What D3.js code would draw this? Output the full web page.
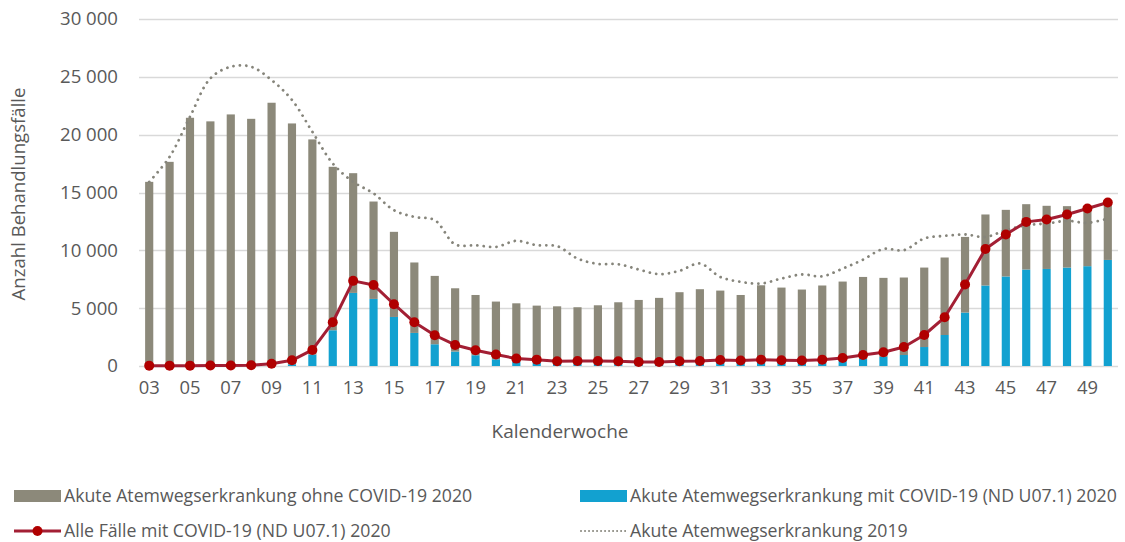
<!DOCTYPE html>
<html>
<head>
<meta charset="utf-8">
<script src="https://cdn.jsdelivr.net/npm/d3@7"></script>
<style>
  html, body { margin: 0; padding: 0; background: #fff; }
  svg { display: block; }
  text { font-family: "Open Sans", sans-serif; fill: #595959; }
</style>
</head>
<body>
<svg id="chart" width="1125" height="542"></svg>
<script>
const weeks = ["03","04","05","06","07","08","09","10","11","12","13","14","15","16","17","18","19","20","21","22","23","24","25","26","27","28","29","30","31","32","33","34","35","36","37","38","39","40","41","42","43","44","45","46","47","48","49","50"];
const ohneCovid2020 = [15920,17650,21460,21150,21750,21370,22730,20820,18600,14130,10350,8420,7360,6090,5910,5470,5210,4990,5070,4920,4910,4850,5020,5290,5510,5690,6160,6390,6240,5880,6680,6500,6360,6710,6870,7090,6840,6700,6870,6700,6540,6140,5760,5650,5460,5310,5220,4930];
const mitCovid2020 = [0,0,0,0,0,0,30,150,990,3090,6320,5800,4240,2860,1880,1250,930,580,350,300,250,230,230,220,200,200,220,250,280,260,300,280,250,250,430,610,780,950,1640,2680,4620,6960,7740,8340,8390,8510,8630,9170];
const alleCovid2020 = [30,30,30,40,40,60,200,490,1390,3780,7360,7010,5340,3780,2660,1820,1360,990,640,550,410,430,430,410,350,350,410,430,520,470,550,500,470,550,690,950,1190,1640,2680,4210,7040,10120,11370,12460,12670,13100,13620,14140];
const akute2019 = [15920,18080,21550,24870,25870,25870,24720,23000,20250,17510,15920,14920,13470,12890,12610,10510,10440,10300,10820,10440,10360,9290,8830,8800,8340,7940,8230,8860,7700,7270,7130,7560,7910,7760,8420,9200,10120,10010,11020,11250,11370,11160,11740,12170,12320,12550,12370,12750];
const yTicks = [0,5000,10000,15000,20000,25000,30000];
const seriesNames = [
  "Akute Atemwegserkrankung ohne COVID-19 2020",
  "Akute Atemwegserkrankung mit COVID-19 (ND U07.1) 2020",
  "Alle Fälle mit COVID-19 (ND U07.1) 2020",
  "Akute Atemwegserkrankung 2019"
];
const yTitle = "Anzahl Behandlungsfälle";
const xTitle = "Kalenderwoche";

const colGray = "#8c897a", colBlue = "#12a1d0", colRed = "#a31f34", colDot = "#b00000", colDotted = "#86857b";

const svg = d3.select("#chart");
const pLeft = 139, pRight = 1118, pTop = 19, pBottom = 366;

const x = d3.scaleBand().domain(weeks).range([pLeft, pRight]).paddingInner(0.6).paddingOuter(0.3);
const xc = d => x(d) + x.bandwidth() / 2;
const y = d3.scaleLinear().domain([0, 30000]).range([pBottom, pTop]);

// gridlines
svg.append("g").selectAll("line").data(yTicks).join("line")
  .attr("x1", pLeft).attr("x2", pRight)
  .attr("y1", d => Math.round(y(d)) + 0.5).attr("y2", d => Math.round(y(d)) + 0.5)
  .attr("stroke", "#d9d9d9").attr("stroke-width", 1.3);

// y axis labels
const yAxis = d3.axisLeft(y).tickValues(yTicks).tickSize(0).tickPadding(0)
  .tickFormat(d => d3.format(",")(d).replace(/,/g, " "));
const gy = svg.append("g").attr("transform", `translate(118,0)`).call(yAxis);
gy.select(".domain").remove();
gy.selectAll("text").style("font-size", "18.6px").attr("fill", "#595959").style("font-family", "Open Sans");

// x axis labels
const xAxis = d3.axisBottom(x).tickValues(weeks.filter((w, i) => i % 2 === 0)).tickSize(0).tickPadding(0);
const gx = svg.append("g").attr("transform", `translate(0,381)`).call(xAxis);
gx.select(".domain").remove();
gx.selectAll("text").style("font-size", "18.4px").attr("fill", "#595959").style("font-family", "Open Sans");

// stacked bars
const stackData = weeks.map((w, i) => ({week: w, mit: mitCovid2020[i], ohne: ohneCovid2020[i]}));
const stacked = d3.stack().keys(["mit", "ohne"])(stackData);
const colors = {mit: colBlue, ohne: colGray};
svg.append("g").selectAll("g").data(stacked).join("g")
  .attr("fill", d => colors[d.key])
  .selectAll("rect").data(d => d).join("rect")
  .attr("x", d => x(d.data.week))
  .attr("width", x.bandwidth())
  .attr("y", d => y(d[1]))
  .attr("height", d => Math.max(0, y(d[0]) - y(d[1])));

// 2019 dotted smoothed line
const line2019 = d3.line().x((d, i) => xc(weeks[i])).y(d => y(d)).curve(d3.curveCatmullRom.alpha(0.5));
svg.append("path").datum(akute2019)
  .attr("d", line2019).attr("fill", "none")
  .attr("stroke", colDotted).attr("stroke-width", 2.8)
  .attr("stroke-linecap", "round").attr("stroke-dasharray", "0.01 6.4");

// red line
const lineRed = d3.line().x((d, i) => xc(weeks[i])).y(d => y(d));
svg.append("path").datum(alleCovid2020)
  .attr("d", lineRed).attr("fill", "none")
  .attr("stroke", colRed).attr("stroke-width", 3).attr("stroke-linejoin", "round");
svg.append("g").selectAll("circle").data(alleCovid2020).join("circle")
  .attr("cx", (d, i) => xc(weeks[i])).attr("cy", d => y(d)).attr("r", 5)
  .attr("fill", colDot);

// axis titles
svg.append("text").attr("transform", `translate(25,${194}) rotate(-90)`)
  .attr("text-anchor", "middle").style("font-size", "18.6px").text(yTitle);
svg.append("text").attr("x", 560).attr("y", 438)
  .attr("text-anchor", "middle").style("font-size", "19px").text(xTitle);

// legend
const lg = svg.append("g").style("font-size", "17.7px");
const legendItems = [
  {x: 14, y: 496, type: "rect", color: colGray, name: seriesNames[0]},
  {x: 580, y: 496, type: "rect", color: colBlue, name: seriesNames[1]},
  {x: 14, y: 531, type: "line", color: colRed, name: seriesNames[2]},
  {x: 580, y: 531, type: "dot", color: colDotted, name: seriesNames[3]}
];
legendItems.forEach(it => {
  const g = lg.append("g");
  if (it.type === "rect") {
    g.append("rect").attr("x", it.x).attr("y", it.y - 6).attr("width", 47).attr("height", 12).attr("fill", it.color);
  } else if (it.type === "line") {
    g.append("line").attr("x1", it.x).attr("x2", it.x + 47).attr("y1", it.y).attr("y2", it.y)
      .attr("stroke", it.color).attr("stroke-width", 3);
    g.append("circle").attr("cx", it.x + 23.5).attr("cy", it.y).attr("r", 5).attr("fill", colDot);
  } else {
    g.append("line").attr("x1", it.x + 1).attr("x2", it.x + 47).attr("y1", it.y).attr("y2", it.y)
      .attr("stroke", it.color).attr("stroke-width", 2).attr("stroke-linecap", "round").attr("stroke-dasharray", "0.01 4");
  }
  g.append("text").attr("x", it.x + 50).attr("y", it.y).attr("dy", "0.35em").text(it.name);
});
</script>
</body>
</html>
